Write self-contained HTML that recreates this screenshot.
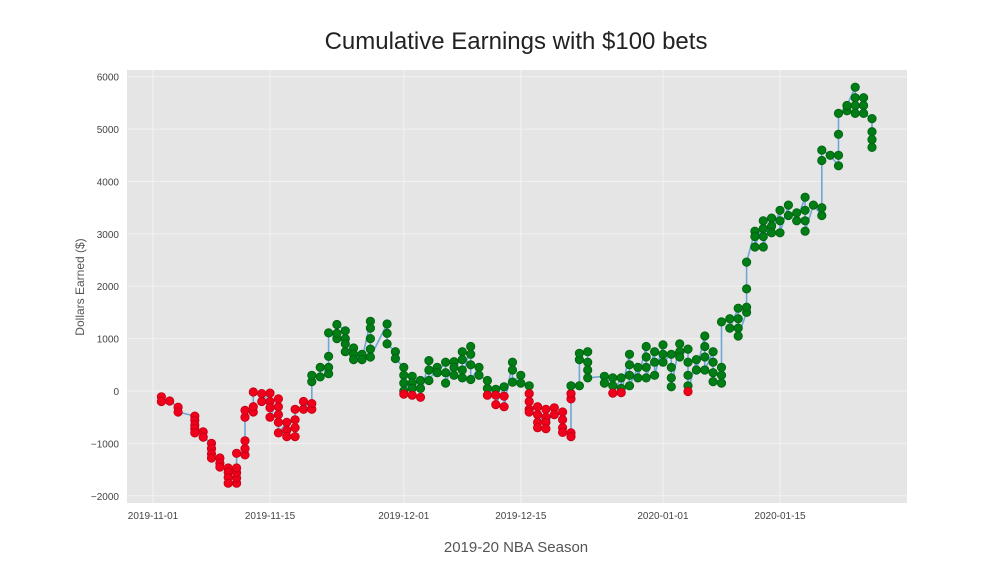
<!DOCTYPE html>
<html><head><meta charset="utf-8"><style>
body{margin:0;background:#fff;font-family:"Liberation Sans",sans-serif;}
svg text{font-family:"Liberation Sans",sans-serif;}
</style></head><body>
<svg id="chart" width="1008" height="576">
<text x="516" y="49" text-anchor="middle" font-size="24" fill="#222">Cumulative Earnings with $100 bets</text>
<rect x="127" y="70" width="780" height="433" fill="#e5e5e5"/>
<g id="grid"></g><g id="ticks"></g>
<text x="516" y="552" text-anchor="middle" font-size="15" fill="#555">2019-20 NBA Season</text>
<text transform="translate(84,287) rotate(-90)" text-anchor="middle" font-size="12" fill="#555">Dollars Earned ($)</text>
<g id="marks"></g>
</svg>
<script>
const days=[1,2,3,5,6,7,8,9,10,11,12,13,14,15,16,17,18,19,20,21,22,23,24,25,26,28,29,30,31,32,33,34,35,36,37,38,39,40,41,42,43,44,45,46,47,48,49,50,51,52,54,55,56,57,58,59,60,61,62,63,64,65,66,67,68,69,70,71,72,73,74,75,76,77,78,79,80,81,82,83,84,85,86];
const cumValues=[[-110,-200],[-190],[-310,-400],[-480,-560,-650,-720,-800],[-780,-880],[-1000,-1100,-1200,-1280],[-1280,-1380,-1450],[-1470,-1550,-1650,-1760],[-1760,-1660,-1560,-1470,-1190],[-1220,-1100,-950,-500,-370],[-400,-300,-20],[-50,-200],[-40,-200,-320,-500],[-150,-300,-450,-600,-800],[-600,-750,-870],[-870,-700,-550,-350],[-350,-200],[-350,-240,180,300],[270,450],[330,450,660,1110],[1000,1100,1270],[1150,1000,900,750],[820,700,600],[700,600],[1330,1200,1000,800,650],[1280,1100,900],[750,620],[450,300,150,0,-60],[280,150,50,-80],[200,50,-120],[580,400,200],[450,350],[550,350,150],[560,450,300],[750,600,400,250],[850,700,500,220],[450,300],[200,50,-80],[30,-80,-260],[80,-100,-300],[550,400,170],[300,150],[100,-50,-200,-350,-400],[-300,-450,-600,-700],[-350,-500,-600,-720],[-320,-450],[-400,-550,-700,-790],[-800,-870,-150,-50,100],[100,600,720],[750,550,400,250],[280,150],[250,100,-40],[250,50,-30],[700,500,300,100],[450,250],[850,650,450,250],[750,550,300],[880,700,550],[700,450,250,80],[900,750,650],[800,550,300,100,-10],[600,400],[1050,850,650,400],[750,550,350,180],[150,300,450,1320],[1380,1200],[1580,1380,1200,1050],[1500,1600,1950,2460],[3050,2950,2750],[3250,3100,2950,2750],[3300,3150,3020],[3450,3250,3020],[3550,3350],[3400,3250],[3700,3450,3250,3050],[3550],[3350,3500,4400,4600],[4500],[4300,4500,4900,5300],[5350,5450],[5800,5600,5450,5300],[5600,5450,5300],[5200,4950,4800,4650]];
const yTicks=[6000,5000,4000,3000,2000,1000,0,-1000,-2000];
const yTickLabels=["6000","5000","4000","3000","2000","1000","0","\u22121000","\u22122000"];
const xTickDays=[0,14,30,44,61,75];
const xTickLabels=["2019-11-01","2019-11-15","2019-12-01","2019-12-15","2020-01-01","2020-01-15"];
const NS="http://www.w3.org/2000/svg";
function xs(d){return 153+d*8.36;}
function ys(v){return 391-v*0.05238;}
const grid=document.getElementById('grid'),ticks=document.getElementById('ticks'),marks=document.getElementById('marks');
function mk(tag,attrs,parent){const e=document.createElementNS(NS,tag);for(const k in attrs)e.setAttribute(k,attrs[k]);parent.appendChild(e);return e;}
yTicks.forEach((v,i)=>{
  const l=mk('line',{x1:127,x2:907,y1:ys(v),y2:ys(v),stroke:'#f2f2f2','stroke-width':1},grid);
  
  
  const t=mk('text',{x:119,y:ys(v)+4,'text-anchor':'end','font-size':10,fill:'#444'},ticks);
  t.textContent=yTickLabels[i];
  
  
});
xTickDays.forEach((d,i)=>{
  const l=mk('line',{x1:xs(d),x2:xs(d),y1:70,y2:503,stroke:'#f2f2f2','stroke-width':1},grid);
  
  
  const t=mk('text',{x:xs(d),y:519,'text-anchor':'middle','font-size':10,fill:'#444'},ticks);
  t.textContent=xTickLabels[i];
  
  
});
const pts=[];
days.forEach((d,i)=>cumValues[i].forEach(v=>pts.push([xs(d),ys(v),v])));
const line=mk('polyline',{points:pts.map(p=>p[0].toFixed(1)+','+p[1].toFixed(1)).join(' '),fill:'none',stroke:'#5b9bd5','stroke-width':1.6,'stroke-opacity':0.85},marks);


pts.forEach(p=>{
  const pos=p[2]>=0;
  const c=mk('circle',{cx:p[0].toFixed(1),cy:p[1].toFixed(1),r:4.2,fill:pos?'#007d14':'#f0001a',stroke:pos?'#006010':'#c00015','stroke-width':0.8},marks);
  
  
});
</script>
</body></html>
